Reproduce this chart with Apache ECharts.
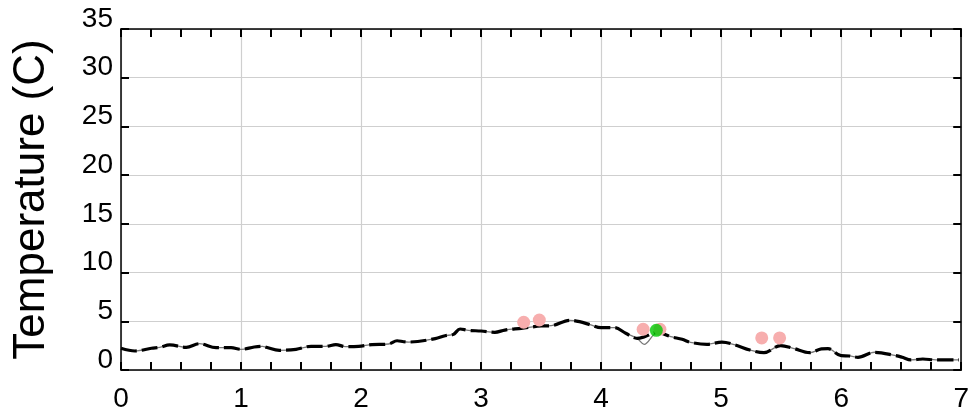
<!DOCTYPE html>
<html>
<head>
<meta charset="utf-8">
<script src="https://cdn.jsdelivr.net/npm/echarts@6/dist/echarts.min.js"></script>
<style>html,body{margin:0;padding:0;background:#fff}#c{width:972px;height:420px}</style>
</head>
<body>
<div id="c"></div>
<script>
// Data
const xValues = [0, 0.116, 0.254, 0.323, 0.406, 0.544, 0.654, 0.792, 0.917, 1.0, 1.11, 1.18, 1.21, 1.32, 1.458, 1.583, 1.707, 1.79, 1.87, 1.98, 2.09, 2.23, 2.30, 2.355, 2.397, 2.618, 2.70, 2.77, 2.825, 2.894, 3.0, 3.115, 3.198, 3.335, 3.50, 3.584, 3.74, 3.82, 3.915, 3.998, 4.11, 4.205, 4.30, 4.358, 4.47, 4.58, 4.675, 4.744, 4.882, 5.007, 5.117, 5.24, 5.357, 5.495, 5.60, 5.738, 5.835, 5.89, 6.0, 6.07, 6.14, 6.277, 6.456, 6.51, 6.58, 6.68, 6.79, 6.98];
const tempThin = [2.23, 1.95, 2.23, 2.33, 2.57, 2.33, 2.70, 2.29, 2.29, 2.12, 2.36, 2.43, 2.33, 2.02, 2.12, 2.43, 2.43, 2.60, 2.40, 2.43, 2.60, 2.67, 3.0, 2.9, 2.87, 3.22, 3.52, 3.66, 4.21, 4.07, 4.0, 3.87, 4.10, 4.28, 4.52, 4.55, 5.10, 4.96, 4.62, 4.35, 4.35, 3.77, 3.25, 2.64, 3.87, 3.42, 3.15, 2.84, 2.64, 2.87, 2.57, 2.05, 1.78, 2.50, 2.23, 1.78, 2.16, 2.19, 1.47, 1.44, 1.30, 1.82, 1.47, 1.30, 1.03, 1.13, 1.03, 1.03];
const tempThick = [2.23, 1.95, 2.23, 2.33, 2.57, 2.33, 2.70, 2.29, 2.29, 2.12, 2.36, 2.43, 2.33, 2.02, 2.12, 2.43, 2.43, 2.60, 2.40, 2.43, 2.60, 2.67, 3.0, 2.9, 2.87, 3.22, 3.52, 3.66, 4.21, 4.07, 4.0, 3.87, 4.10, 4.28, 4.52, 4.55, 5.10, 4.96, 4.62, 4.35, 4.35, 3.77, 3.25, 3.40, 3.87, 3.42, 3.15, 2.84, 2.64, 2.87, 2.57, 2.05, 1.78, 2.50, 2.23, 1.78, 2.16, 2.19, 1.47, 1.44, 1.30, 1.82, 1.47, 1.30, 1.03, 1.13, 1.03, 1.03];
const pinkX = [3.355, 3.485, 4.35, 4.49, 5.338, 5.487];
const pinkY = [4.9, 5.13, 4.18, 4.18, 3.29, 3.29];
const greenX = [4.46];
const greenY = [4.07];

const FONT = 'Liberation Sans, Arial, sans-serif';
const chart = echarts.init(document.getElementById('c'), null, {renderer: 'canvas'});

const axisCommon = {
  type: 'value',
  axisLine: {show: true, onZero: false, lineStyle: {color: '#000', width: 1.5}},
  axisTick: {show: true, inside: true, length: 8, lineStyle: {color: '#000', width: 2}},
};

chart.setOption({
  animation: false,
  backgroundColor: '#fff',
  grid: {left: 121, right: 6, top: 29, bottom: 50, containLabel: false},
  xAxis: [
    Object.assign({}, axisCommon, {
      position: 'bottom', min: 0, max: 7, interval: 1,
      minorTick: {show: true, splitNumber: 4, length: 8, lineStyle: {color: '#000', width: 2}},
      splitLine: {show: true, lineStyle: {color: '#cfcfcf', width: 1.2}},
      axisLabel: {show: true, color: '#000', fontSize: 28, fontFamily: FONT, margin: 15}
    }),
    Object.assign({}, axisCommon, {
      position: 'top', min: 0, max: 7, interval: 1,
      minorTick: {show: true, splitNumber: 4, length: 8, lineStyle: {color: '#000', width: 2}},
      splitLine: {show: false},
      axisLabel: {show: false}
    })
  ],
  yAxis: [
    Object.assign({}, axisCommon, {
      position: 'left', min: 0, max: 35, interval: 5,
      axisTick: {show: true, inside: true, length: 8, lineStyle: {color: '#000', width: 2}},
      splitLine: {show: true, lineStyle: {color: '#cfcfcf', width: 1.2}},
      axisLabel: {show: true, color: '#000', fontSize: 28, fontFamily: FONT, margin: 8,
        verticalAlign: 'bottom', lineHeight: 20},
      name: 'Temperature (C)', nameLocation: 'middle', nameRotate: 90, nameGap: 67,
      nameTextStyle: {color: '#000', fontSize: 44, fontFamily: FONT}
    }),
    Object.assign({}, axisCommon, {
      position: 'right', min: 0, max: 35, interval: 5,
      axisTick: {show: true, inside: true, length: 8, lineStyle: {color: '#000', width: 2}},
      splitLine: {show: false},
      axisLabel: {show: false}
    })
  ],
  series: [
    {
      type: 'line', xAxisIndex: 0, yAxisIndex: 0,
      data: xValues.map((x, i) => [x, tempThin[i]]),
      smooth: 0.35, showSymbol: false, symbol: 'none',
      lineStyle: {color: '#777', width: 1.3}, z: 3
    },
    {
      type: 'line', xAxisIndex: 0, yAxisIndex: 0,
      data: xValues.map((x, i) => [x, tempThick[i]]),
      smooth: 0.35, showSymbol: false, symbol: 'none',
      lineStyle: {color: '#000', width: 3.2, type: [16, 5]}, z: 4
    },
    {
      type: 'scatter', xAxisIndex: 0, yAxisIndex: 0,
      data: pinkX.map((x, i) => [x, pinkY[i]]),
      symbol: 'circle', symbolSize: 13,
      itemStyle: {color: '#f7aeae', opacity: 1}, z: 5
    },
    {
      type: 'scatter', xAxisIndex: 0, yAxisIndex: 0,
      data: greenX.map((x, i) => [x, greenY[i]]),
      symbol: 'circle', symbolSize: 13,
      itemStyle: {color: '#00c800'}, z: 6
    }
  ]
});
</script>
</body>
</html>
